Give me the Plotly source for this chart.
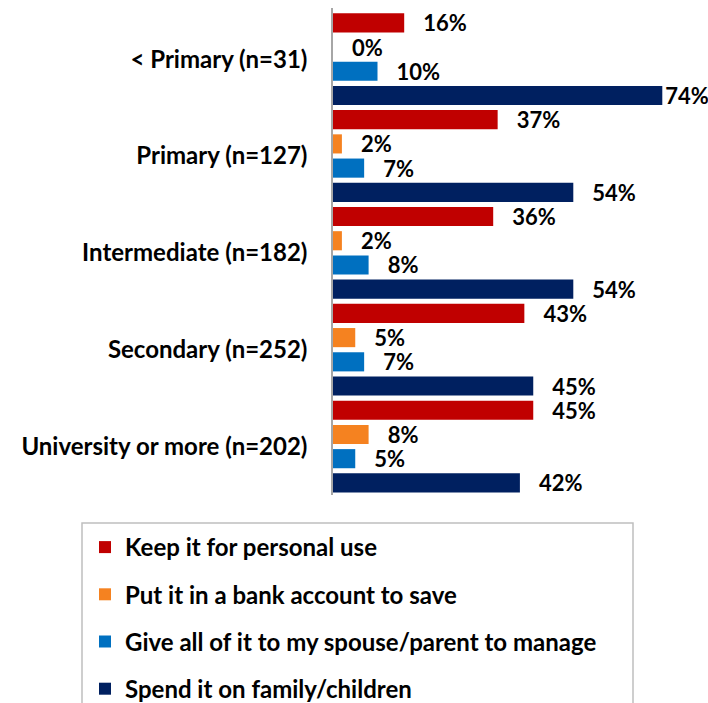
import plotly.graph_objects as go

categories = ["< Primary (n=31)", "Primary (n=127)", "Intermediate (n=182)",
              "Secondary (n=252)", "University or more (n=202)"]
series_names = ["Keep it for personal use", "Put it in a bank account to save",
                "Give all of it to my spouse/parent to manage", "Spend it on family/children"]
keep = [16, 37, 36, 43, 45]
bank = [0, 2, 2, 5, 8]
give = [10, 7, 8, 7, 5]
spend = [74, 54, 54, 45, 42]
colors = ["#C00000", "#F58220", "#0070C0", "#002060"]

FONT = "Lato"
NB = "\u00a0"
all_vals = keep + bank + give + spend
vmax = max(all_vals)

fig = go.Figure()
for i, (name, vals) in enumerate(zip(series_names, [keep, bank, give, spend])):
    fig.add_trace(go.Bar(
        y=categories, x=vals, name=name, orientation="h",
        marker=dict(color=colors[i], line=dict(width=0)),
        text=[("" if v == vmax else NB * 3) + f"{v}%" for v in vals],
        textposition="outside", constraintext="none",
        textfont=dict(family=FONT, size=22, color="black", weight="bold"),
        cliponaxis=False, legendgroup=f"g{i}",
    ))

W, H = 708, 703
L, R, T, B = 333, 0, 8, 208
pw, ph = W - L - R, H - T - B

def px_x(p):
    return (p - L) / pw

def px_y(p):
    return (H - B - p) / ph

fig.update_layout(
    width=W, height=H, barmode="group", bargap=0.0, bargroupgap=0.21,
    margin=dict(l=L, r=R, t=T, b=B, pad=0, autoexpand=False),
    paper_bgcolor="white", plot_bgcolor="white",
    font=dict(family=FONT, size=24, color="black", weight="bold"),
    showlegend=True,
    legend=dict(x=px_x(85), y=px_y(525), xanchor="left", yanchor="top",
                traceorder="grouped", tracegroupgap=13,
                font=dict(family=FONT, size=24, color="black", weight="bold"),
                bgcolor="rgba(0,0,0,0)"),
    xaxis=dict(range=[0, 375 / 4.45], showticklabels=False, showgrid=False,
               zeroline=False, showline=False, ticks=""),
    yaxis=dict(range=[4.5, -0.528], showgrid=False, zeroline=False, showline=True,
               linecolor="#A6A6A6", linewidth=1.5, ticks="", ticklabelstandoff=19,
               tickfont=dict(family=FONT, size=24, color="black", weight="bold")),
    shapes=[dict(type="rect", xref="paper", yref="paper",
                 x0=px_x(82), x1=px_x(633), y0=px_y(760), y1=px_y(523),
                 line=dict(color="#BFBFBF", width=1.5), fillcolor="rgba(0,0,0,0)")],
)
fig.write_html("out.html", post_script="document.body.style.margin='0';",
               config={"displayModeBar": False})
